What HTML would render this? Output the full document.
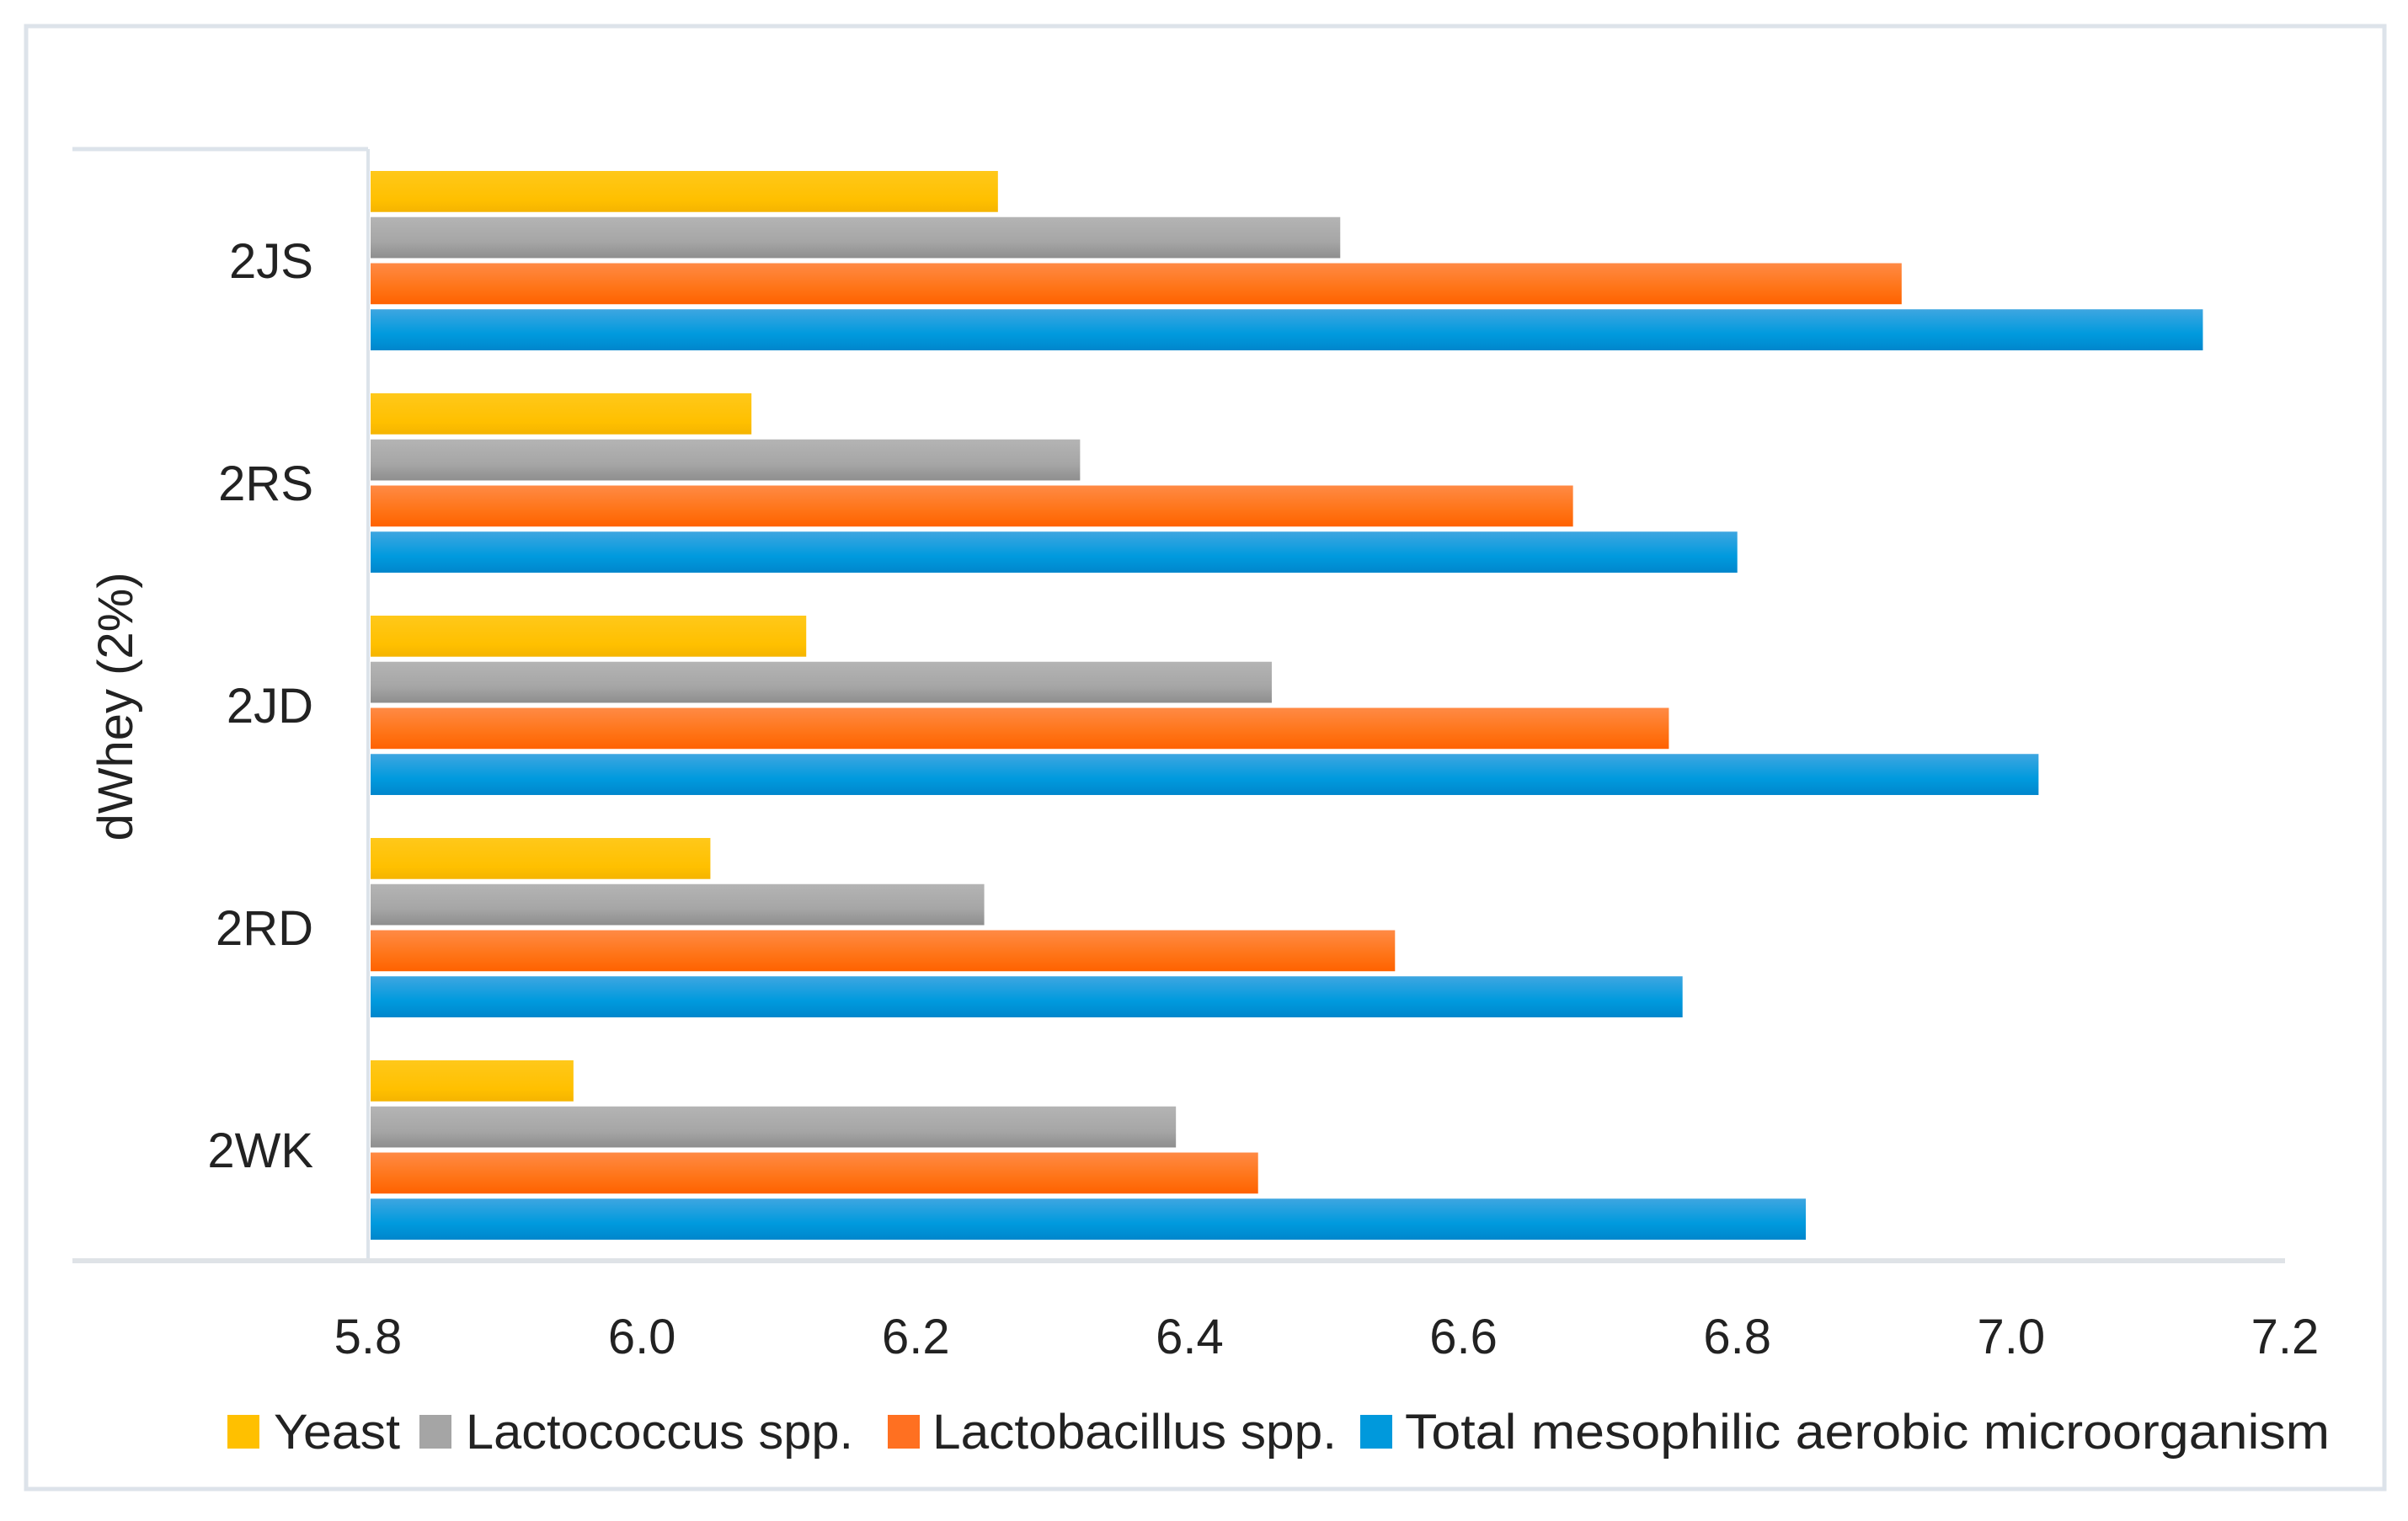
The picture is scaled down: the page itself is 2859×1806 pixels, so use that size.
<!DOCTYPE html>
<html><head><meta charset="utf-8"><style>
html,body{margin:0;padding:0;background:#fff;}
svg text{font-family:"Liberation Sans",sans-serif;fill:#222;}
</style></head><body>
<svg xmlns="http://www.w3.org/2000/svg" width="2859" height="1801" viewBox="0 0 2859 1801">
<defs>
<linearGradient id="gY" x1="0" y1="0" x2="0" y2="1"><stop offset="0" stop-color="#ffc81a"/><stop offset="0.7" stop-color="#ffc000"/><stop offset="1" stop-color="#f5b400"/></linearGradient>
<linearGradient id="gG" x1="0" y1="0" x2="0" y2="1"><stop offset="0" stop-color="#b4b4b4"/><stop offset="0.6" stop-color="#a6a6a6"/><stop offset="1" stop-color="#8e8e8e"/></linearGradient>
<linearGradient id="gO" x1="0" y1="0" x2="0" y2="1"><stop offset="0" stop-color="#ff8a45"/><stop offset="0.6" stop-color="#ff7417"/><stop offset="1" stop-color="#ff6200"/></linearGradient>
<linearGradient id="gB" x1="0" y1="0" x2="0" y2="1"><stop offset="0" stop-color="#3ea6e0"/><stop offset="0.6" stop-color="#009ade"/><stop offset="1" stop-color="#0086cc"/></linearGradient>
</defs>
<rect x="31" y="31" width="2800" height="1737" fill="#fff" stroke="#dde3ea" stroke-width="5"/>
<g id="plot"></g>
</svg>
<script>
const categories = ["2JS","2RS","2JD","2RD","2WK"];
const seriesNames = ["Yeast","Lactococcus spp.","Lactobacillus spp.","Total mesophilic aerobic microorganism"];
const yeast = [6.26,6.08,6.12,6.05,5.95];
const lactococcus = [6.51,6.32,6.46,6.25,6.39];
const lactobacillus = [6.92,6.68,6.75,6.55,6.45];
const totalMesophilic = [7.14,6.80,7.02,6.76,6.85];
const xTicks = [5.8,6.0,6.2,6.4,6.6,6.8,7.0,7.2];
const xTickLabels = ["5.8","6.0","6.2","6.4","6.6","6.8","7.0","7.2"];

const NS="http://www.w3.org/2000/svg";
const g=document.getElementById('plot');
const X0=437, X1=2713, TOP=177, BOT=1497;
const xMin=5.8, xMax=7.2;
function xs(v){return X0+(v-xMin)/(xMax-xMin)*(X1-X0);}
const groupH=(BOT-TOP)/categories.length;
function mk(tag,attrs){const e=document.createElementNS(NS,tag);for(const k in attrs)e.setAttribute(k,attrs[k]);g.appendChild(e);return e;}
const series=[yeast,lactococcus,lactobacillus,totalMesophilic];
const fills=["url(#gY)","url(#gG)","url(#gO)","url(#gB)"];
const legendColors=["#ffc000","#a5a5a5","#ff7021","#0099dc"];
const keys=["yeast","lactococcus","lactobacillus","total-mesophilic"];
let a=mk('line',{x1:86,y1:TOP,x2:X0,y2:TOP,stroke:'#dce3ea','stroke-width':5});


a=mk('line',{x1:X0,y1:TOP,x2:X0,y2:BOT,stroke:'#dce3ea','stroke-width':4});


a=mk('line',{x1:86,y1:BOT,x2:X1,y2:BOT,stroke:'#dfe3e7','stroke-width':6});


categories.forEach((c,i)=>{
  const gy=TOP+i*groupH;
  const padT=26, padB=19, pitch=(groupH-padT-padB)/4, bh=pitch*0.89;
  series.forEach((s,j)=>{
    const y=gy+padT+j*pitch;
    const r=mk('rect',{x:X0+3,y:y,width:Math.max(0,xs(s[i])-X0-3),height:bh,fill:fills[j]});
    
    
  });
  const t=mk('text',{x:372,y:gy+groupH/2+21,'text-anchor':'end','font-size':58});
  t.textContent=c;
  
  
});
xTicks.forEach((v,i)=>{
  const t=mk('text',{x:xs(v),y:1607,'text-anchor':'middle','font-size':58});
  t.textContent=xTickLabels[i];
  
  
});
let yl=mk('text',{x:0,y:0,'text-anchor':'middle','font-size':58,transform:'translate(157,839) rotate(-90)'});
yl.textContent="dWhey (2%)";


const legSq=[270,498,1054,1615], legTx=[325,553,1107,1668], legW=[150,460,480,1098];
seriesNames.forEach((n,j)=>{
  const r=mk('rect',{x:legSq[j],y:1680,width:38,height:40,fill:legendColors[j]});
  
  
  const t=mk('text',{x:legTx[j],y:1720,'font-size':58,textLength:legW[j],lengthAdjust:'spacingAndGlyphs'});
  t.textContent=n;
  
  
});
</script>
</body></html>
